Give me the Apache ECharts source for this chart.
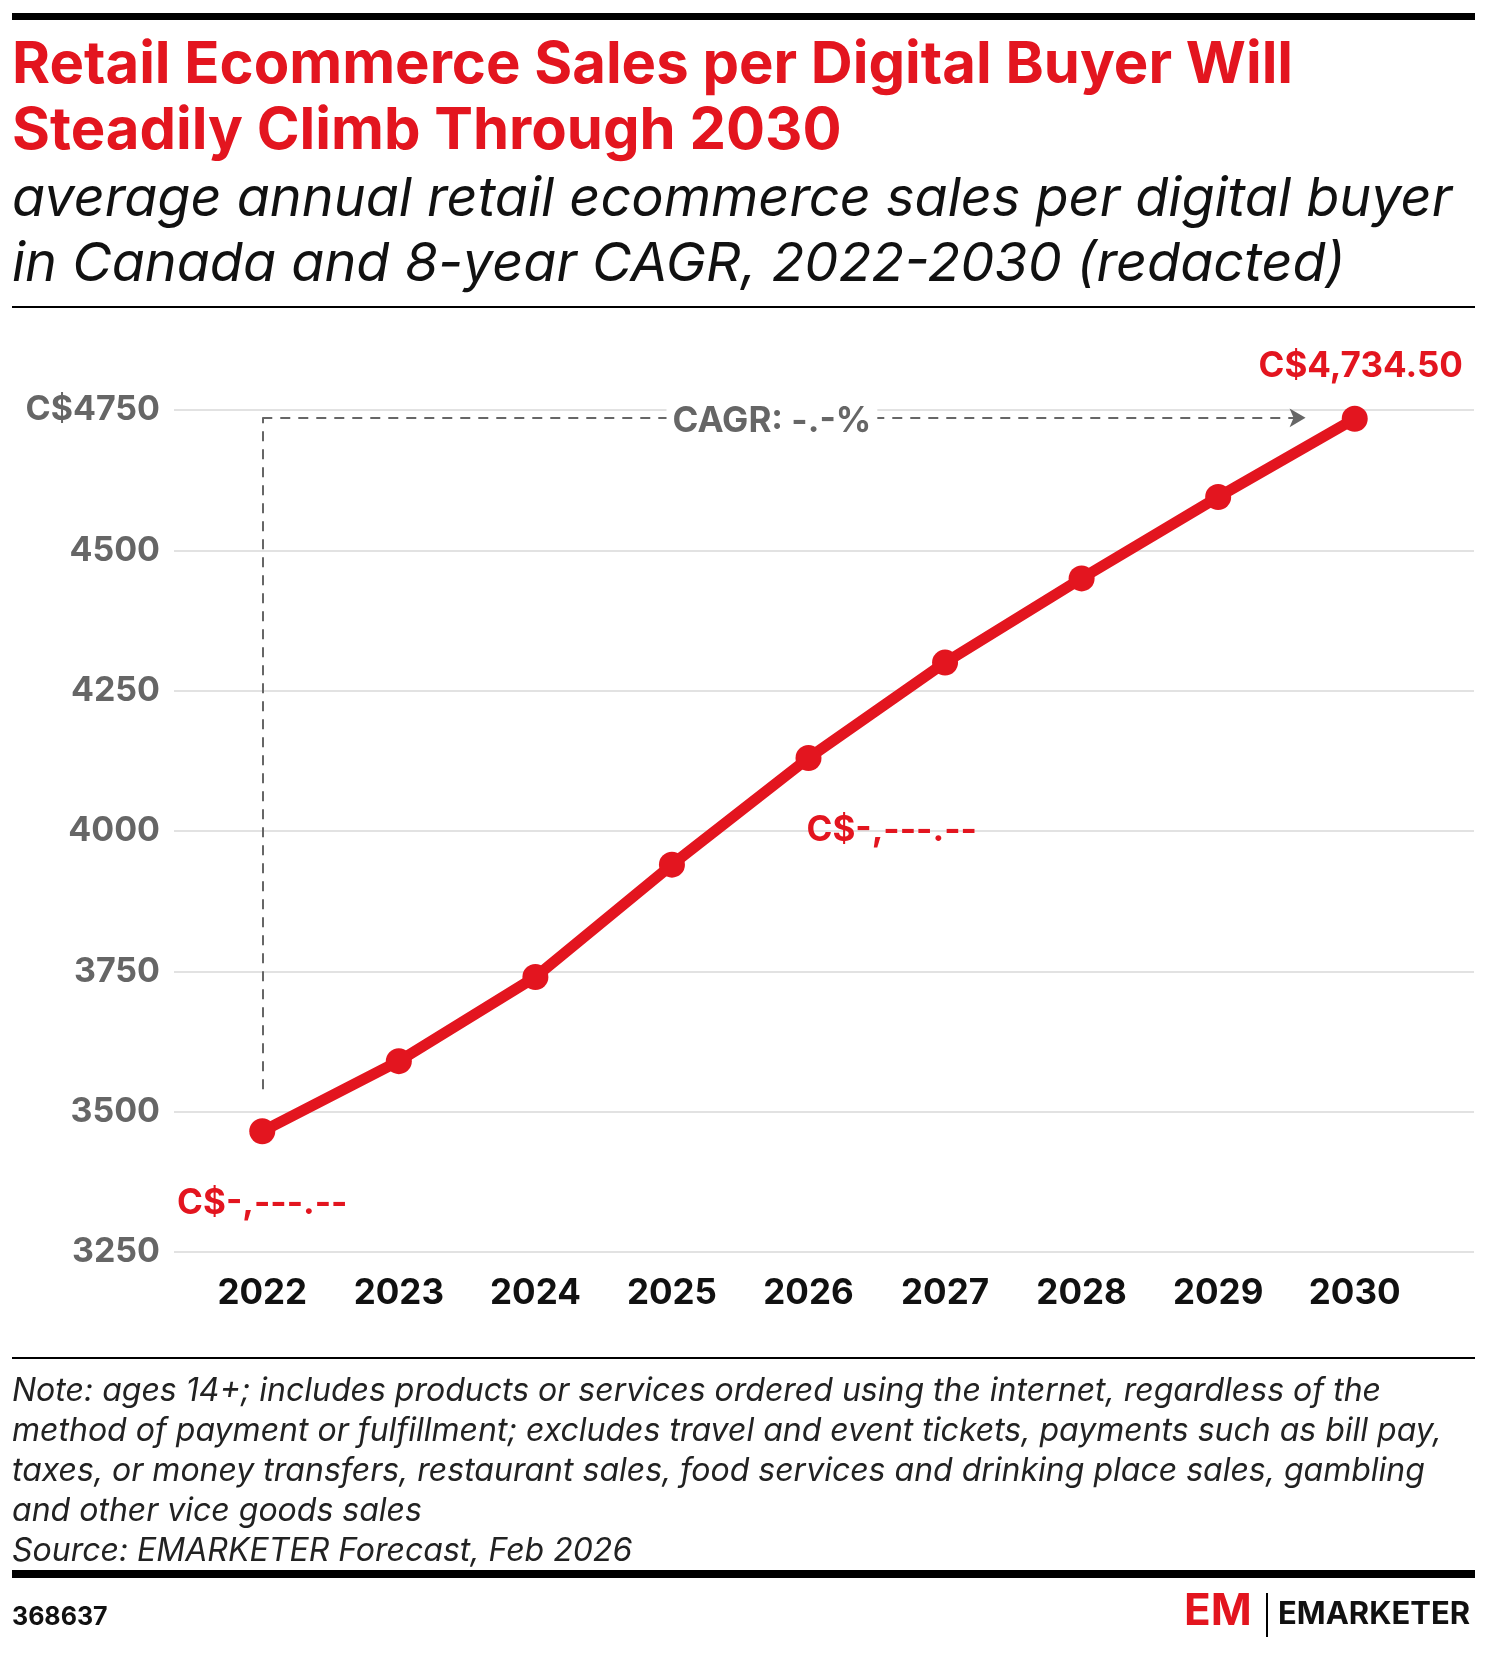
<!DOCTYPE html>
<html>
<head>
<meta charset="utf-8">
<script src="https://cdn.jsdelivr.net/npm/echarts@6/dist/echarts.min.js"></script>
<style>
  html, body { margin: 0; padding: 0; background: #fff; }
  #main { width: 1487px; height: 1655px; }
</style>
</head>
<body>
<div id="main"></div>
<script>
// data
var years = ['2022', '2023', '2024', '2025', '2026', '2027', '2028', '2029', '2030'];
var sales = [3465, 3590, 3740, 3940, 4130, 4300, 4450, 4595, 4734.5];
var pointLabels = ['C$-,---.--', '', '', '', 'C$-,---.--', '', '', '', 'C$4,734.50'];
var cagrText = 'CAGR: -.-%';
var noteLines = [
    'Note: ages 14+; includes products or services ordered using the internet, regardless of the',
    'method of payment or fulfillment; excludes travel and event tickets, payments such as bill pay,',
    'taxes, or money transfers, restaurant sales, food services and drinking place sales, gambling',
    'and other vice goods sales',
    'Source: EMARKETER Forecast, Feb 2026'
];

var red = '#e3151f';
var font = 'Inter';
var chart = echarts.init(document.getElementById('main'));

var data = sales.map(function (v, i) {
    var item = { value: v };
    if (pointLabels[i]) {
        item.label = {
            show: true,
            formatter: pointLabels[i],
            position: i === 8 ? 'top' : 'bottom',
            distance: i === 8 ? 22 : 42,
            align: i === 4 ? 'left' : 'center',
            offset: i === 4 ? [-2, 0] : (i === 8 ? [6, 0] : [0, 0])
        };
    }
    return item;
});

chart.setOption({
    animation: false,
    title: [{
        text: 'Retail Ecommerce Sales per Digital Buyer Will\nSteadily Climb Through 2030',
        left: 7, top: 28,
        textStyle: { color: red, fontFamily: font, fontWeight: 'bold', fontSize: 58, lineHeight: 66 }
    }, {
        text: 'average annual retail ecommerce sales per digital buyer\nin Canada and 8-year CAGR, 2022-2030 (redacted)',
        left: 7, top: 162,
        textStyle: { color: '#111', fontFamily: font, fontWeight: 'normal', fontStyle: 'italic', fontSize: 54, lineHeight: 65 }
    }, {
        text: noteLines.join('\n'),
        left: 7, top: 1366,
        textStyle: { color: '#222', fontFamily: font, fontWeight: 'normal', fontStyle: 'italic', fontSize: 32, lineHeight: 40 }
    }, {
        text: '368637',
        left: 7, top: 1600,
        textStyle: { color: '#111', fontFamily: font, fontWeight: 'bold', fontSize: 25 }
    }],
    graphic: [
        { type: 'rect', shape: { x: 12, y: 13, width: 1463, height: 7 }, style: { fill: '#000' } },
        { type: 'rect', shape: { x: 12, y: 306, width: 1463, height: 2 }, style: { fill: '#000' } },
        { type: 'rect', shape: { x: 12, y: 1357, width: 1463, height: 2 }, style: { fill: '#000' } },
        { type: 'rect', shape: { x: 12, y: 1570, width: 1463, height: 8 }, style: { fill: '#000' } },
        { type: 'text', left: 1184, top: 1590, style: { text: 'EM', fill: red, font: 'bold 44px ' + font } },
        { type: 'rect', shape: { x: 1266, y: 1593, width: 2, height: 44 }, style: { fill: '#000' } },
        { type: 'text', left: 1278, top: 1599, style: { text: 'EMARKETER', fill: '#111', font: 'bold 31px ' + font } }
    ],
    grid: [
        { left: 194, right: 64, top: 410, bottom: 403 },
        { left: 174, right: 13, top: 410, bottom: 403 }
    ],
    xAxis: [{
        type: 'category',
        gridIndex: 0,
        data: years,
        boundaryGap: true,
        axisLine: { show: false },
        axisTick: { show: false },
        axisLabel: { color: '#111', fontFamily: font, fontWeight: 'bold', fontSize: 35, margin: 24 }
    }, {
        type: 'value', gridIndex: 0, min: -0.5, max: 8.5, show: false
    }, {
        type: 'value', gridIndex: 1, min: 0, max: 1, show: false
    }],
    yAxis: [{
        type: 'value',
        gridIndex: 0,
        min: 3250, max: 4750, interval: 250,
        show: false
    }, {
        type: 'value',
        gridIndex: 1,
        min: 3250, max: 4750, interval: 250,
        axisLine: { show: false },
        axisTick: { show: false },
        splitLine: { lineStyle: { color: '#e2e2e2', width: 2 } },
        axisLabel: {
            color: '#666', fontFamily: font, fontWeight: 'bold', fontSize: 34, margin: 14,
            formatter: function (v) { return v === 4750 ? 'C$' + v : String(v); }
        }
    }],
    series: [{
        type: 'line',
        data: data,
        symbol: 'circle',
        symbolSize: 26,
        lineStyle: { color: red, width: 11 },
        itemStyle: { color: red },
        label: { color: red, fontFamily: font, fontWeight: 'bold', fontSize: 35 },
        z: 3
    }, {
        type: 'line',
        xAxisIndex: 1,
        data: [],
        markLine: {
            silent: true,
            symbol: 'none',
            lineStyle: { color: '#666', type: [10, 8], width: 2 },
            label: { show: false },
            data: [
                [{ coord: [0, 3540] }, { coord: [0, 4736] }],
                [{ coord: [0, 4736] }, {
                    coord: [7.64, 4736], symbol: 'arrow', symbolSize: [14, 16],
                    label: {
                        show: true, position: 'middle', formatter: cagrText,
                        color: '#666', fontFamily: font, fontWeight: 'bold', fontSize: 35,
                        backgroundColor: '#fff', padding: [0, 6], offset: [-12, 26]
                    }
                }]
            ]
        }
    }]
});
</script>
</body>
</html>
